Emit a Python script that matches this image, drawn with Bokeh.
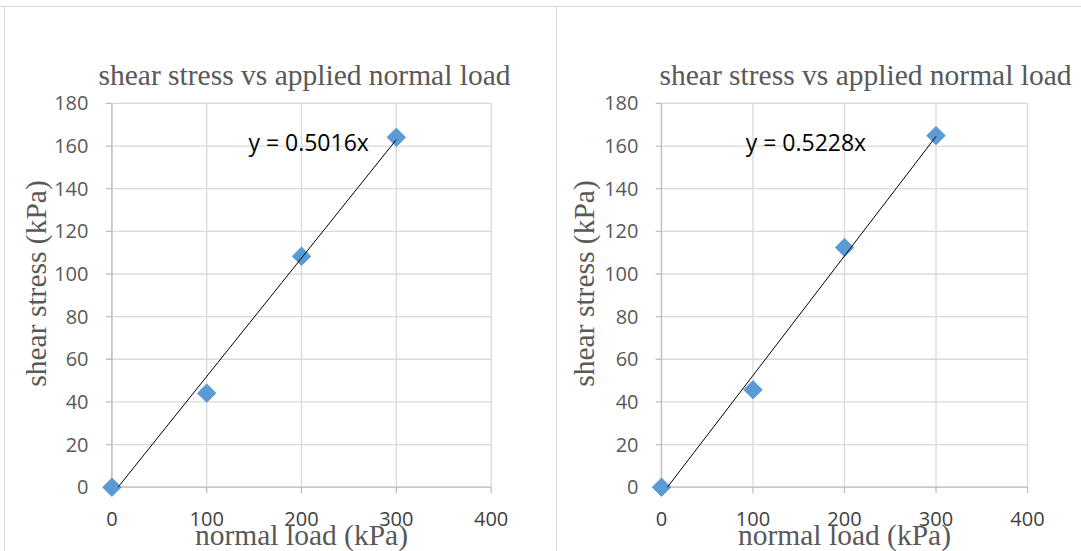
import math
from bokeh.plotting import figure
from bokeh.layouts import row, column
from bokeh.models import Range1d, FixedTicker, Label, Spacer
from bokeh.embed import file_html
from bokeh.resources import INLINE

# ---- data ----
x_ticks = [0, 100, 200, 300, 400]
y_ticks = [0, 20, 40, 60, 80, 100, 120, 140, 160, 180]
normal_load = [0, 100, 200, 300]
shear_left = [0, 44.1, 108.3, 164.1]
shear_right = [0, 45.7, 112.4, 164.9]
trend_x = [6.5, 300]
trend_left = [0, 163.0]
trend_right = [0, 164.5]
eq_left = "y = 0.5016x"
eq_right = "y = 0.5228x"
title_text = "shear stress vs applied normal load"
x_label = "normal load (kPa)"
y_label = "shear stress (kPa)"

GRID = "#d9d9d9"
AXIS = "#bfbfbf"
TXT = "#595959"
BLUE = "#5b9bd5"
SERIF = "Liberation Serif"
SANS = "Open Sans"
X_TICK_LEN = 2.8   # data units (~6 px)
Y_TICK_LEN = 6.3   # data units (~6 px)


def panel(shear, trend_y, eq, eq_pos, mb_left, frame_w, mb_right, title_offset,
          ylab_standoff):
    p = figure(frame_width=frame_w, frame_height=428,
               min_border_left=mb_left, min_border_right=mb_right,
               min_border_top=62, min_border_bottom=54,
               x_range=Range1d(-12, 412), y_range=Range1d(-4.83, 195.9),
               output_backend="svg", toolbar_location=None,
               background_fill_color="white", border_fill_color="white")
    p.outline_line_color = None
    p.xgrid.visible = False
    p.ygrid.visible = False

    # title
    p.title.text = title_text
    p.title.text_font = SERIF
    p.title.text_font_size = "29.5px"
    p.title.text_font_style = "normal"
    p.title.text_color = TXT
    p.title.align = "left"
    p.title.offset = title_offset
    p.title.standoff = -42

    n_x, n_y = len(x_ticks), len(y_ticks)
    # gridlines
    p.segment(x0=x_ticks, y0=[y_ticks[0]] * n_x, x1=x_ticks, y1=[y_ticks[-1]] * n_x,
              line_color=GRID, line_width=1.3)
    p.segment(x0=[x_ticks[0]] * n_y, y0=y_ticks, x1=[x_ticks[-1]] * n_y, y1=y_ticks,
              line_color=GRID, line_width=1.3)
    # axis lines and tick marks
    p.segment(x0=[x_ticks[0]], y0=[0], x1=[x_ticks[-1]], y1=[0], line_color=AXIS, line_width=1.3)
    p.segment(x0=[0], y0=[y_ticks[0]], x1=[0], y1=[y_ticks[-1]], line_color=AXIS, line_width=1.3)
    p.segment(x0=x_ticks, y0=[0] * n_x, x1=x_ticks, y1=[-X_TICK_LEN] * n_x,
              line_color=AXIS, line_width=1.3)
    p.segment(x0=[0] * n_y, y0=y_ticks, x1=[-Y_TICK_LEN] * n_y, y1=y_ticks,
              line_color=AXIS, line_width=1.3)

    for ax, ticks in ((p.xaxis[0], x_ticks), (p.yaxis[0], y_ticks)):
        ax.ticker = FixedTicker(ticks=ticks)
        ax.axis_line_color = None
        ax.major_tick_line_color = None
        ax.minor_tick_line_color = None
        ax.major_tick_out = 0
        ax.major_tick_in = 0
        ax.major_label_text_font = SANS
        ax.major_label_text_font_size = "20px"
        ax.axis_label_text_font = SERIF
        ax.axis_label_text_font_size = "29.5px"
        ax.axis_label_text_font_style = "normal"
        ax.axis_label_text_color = TXT
    p.xaxis[0].major_label_text_color = "#404040"
    p.xaxis[0].major_label_standoff = 14
    p.xaxis[0].axis_label = x_label
    p.xaxis[0].axis_label_standoff = -10
    p.yaxis[0].major_label_text_color = TXT
    p.yaxis[0].major_label_standoff = 12
    p.yaxis[0].axis_label = y_label
    p.yaxis[0].axis_label_standoff = ylab_standoff

    p.scatter(normal_load, shear, marker="square", size=13, angle=math.pi / 4,
              fill_color=BLUE, line_color=BLUE)
    p.line(trend_x, trend_y, line_color="black", line_width=1)

    p.add_layout(Label(x=eq_pos[0], y=eq_pos[1], text=eq, text_font=SANS,
                       text_font_size="23px", text_color="black",
                       text_align="left", text_baseline="middle"))
    return p


left = panel(shear_left, trend_left, eq_left, (144, 162), 95, 402, 54, -2, -1)
right = panel(shear_right, trend_right, eq_right, (92, 162), 93, 388, 43, 9, 1)

divider = Spacer(width=1, height=544, styles={"background-color": GRID})
left_pad = Spacer(width=4, height=544)
left_line = Spacer(width=1, height=544, styles={"background-color": GRID})
body = row(left_pad, left_line, left, divider, right, spacing=0)
top_pad = Spacer(width=1081, height=6)
top_line = Spacer(width=1081, height=1, styles={"background-color": GRID})
layout = column(top_pad, top_line, body, spacing=0)

open("out.html", "w").write(file_html(layout, INLINE))
